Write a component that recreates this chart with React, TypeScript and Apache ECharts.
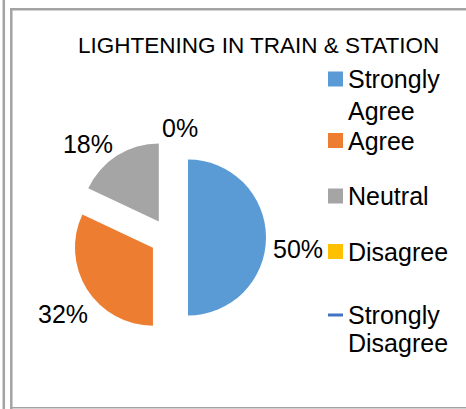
import React, { useEffect, useRef } from 'react';
import * as echarts from 'echarts';

// ---- data ----
const categories = ['Strongly Agree', 'Agree', 'Neutral', 'Disagree', 'Strongly Disagree'];
const legendLabels = ['Strongly\nAgree', 'Agree', 'Neutral', 'Disagree', 'Strongly\nDisagree'];
const values: (number | null)[] = [50, 32, 18, 0, null];
const titleText = 'LIGHTENING IN TRAIN & STATION';

// ---- style ----
const colors = ['#5B9BD5', '#ED7D31', '#A5A5A5', '#FFC000', '#4472C4'];
const FONT = '"Liberation Sans", Arial, sans-serif';
const labelNudge: number[][] = [[0, 11.5], [7.7, 23], [2, -10], [-12, -10.5]];
const legendTops = [63, 125.5, 181, 236.5, 301];
const legendLH = [32, 30, 30, 30, 28];
const legendItemH = [47, 15, 15, 15, 43];
const legendIcons = [
  'path://M0,0L0.01,0ZM0,0H15V15H0ZM15,47L15.01,47Z',
  'rect',
  'rect',
  'rect',
  'path://M0,0L0.01,0ZM0,6H15V9H0ZM15,43L15.01,43Z',
];

export default function App() {
  const ref = useRef<HTMLDivElement>(null);
  useEffect(() => {
    if (!ref.current) return;
    const chart = echarts.init(ref.current, undefined, { renderer: 'svg' });
    const legends = categories.map((name, i) => ({
      data: [{ name, icon: legendIcons[i] }],
      left: 328,
      top: legendTops[i],
      orient: 'vertical',
      padding: 0,
      itemGap: 0,
      itemWidth: 15,
      itemHeight: legendItemH[i],
      selectedMode: false,
      itemStyle: { borderWidth: 0 },
      formatter: (n: string) => legendLabels[categories.indexOf(n)],
      textStyle: { fontSize: 25, lineHeight: legendLH[i], color: '#000', fontFamily: FONT },
    }));
    const lineStyle = { stroke: '#A3A3A3', lineWidth: 2.5 };
    chart.setOption({
      animation: false,
      backgroundColor: '#fff',
      title: {
        text: titleText,
        left: 78,
        top: 32,
        padding: 0,
        textStyle: { fontSize: 22.5, lineHeight: 26, fontWeight: 'normal', color: '#000', fontFamily: FONT },
      },
      legend: legends,
      graphic: [
        { type: 'line', shape: { x1: 3.8, y1: 0, x2: 3.8, y2: 409 }, style: lineStyle },
        { type: 'line', shape: { x1: 11.3, y1: 8, x2: 11.3, y2: 409 }, style: lineStyle },
        { type: 'line', shape: { x1: 10, y1: 9.2, x2: 466, y2: 9.2 }, style: lineStyle },
        { type: 'line', shape: { x1: 10, y1: 407.8, x2: 466, y2: 407.8 }, style: { stroke: '#A3A3A3', lineWidth: 1.5 } },
      ],
      series: [
        {
          type: 'pie',
          center: [169, 237.5],
          radius: 78,
          startAngle: 90,
          clockwise: true,
          selectedMode: 'multiple',
          selectedOffset: 19,
          avoidLabelOverlap: false,
          emphasis: { disabled: true },
          select: { itemStyle: { borderWidth: 0 } },
          itemStyle: { borderWidth: 0 },
          data: categories.map((name, i) => ({
            name,
            value: values[i],
            selected: values[i] != null,
            itemStyle: { color: colors[i] },
          })),
          label: {
            show: true,
            position: 'outside',
            formatter: '{c}%',
            fontSize: 25,
            color: '#000',
            fontFamily: FONT,
          },
          labelLine: { show: false, length: 2, length2: 0 },
          labelLayout: (p: any) => {
            const n = labelNudge[p.dataIndex] || [0, 0];
            return { dx: n[0], dy: n[1] };
          },
        },
      ],
    });
    return () => chart.dispose();
  }, []);
  return (
    <div
      ref={ref}
      style={{ position: 'fixed', left: 0, top: 0, width: 466, height: 409 }}
    />
  );
}
